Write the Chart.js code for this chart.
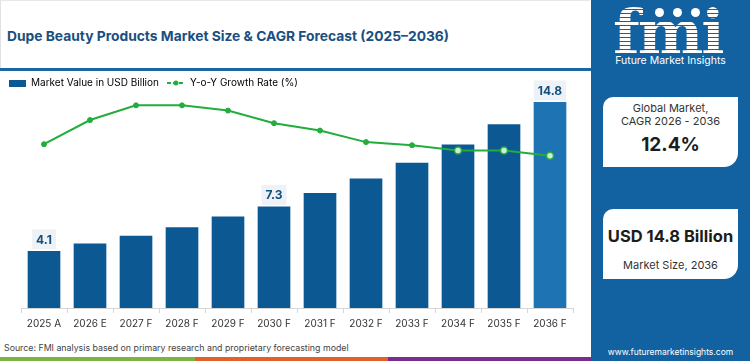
<!DOCTYPE html>
<html>
<head>
<meta charset="utf-8">
<script src="https://cdn.jsdelivr.net/npm/chart.js@4.4.1/dist/chart.umd.min.js"></script>
<style>
  body { margin: 0; width: 750px; height: 361px; overflow: hidden; background: #fff; font-family: Inter, "Open Sans", sans-serif; position: relative; }
  #titlebox { position: absolute; left: 0; top: 0; width: 590px; height: 68px; border-left: 1px solid #e2e2e2; border-top: 1px solid #e8e8e8; box-sizing: border-box; }
  #title { position: absolute; left: 7px; top: 28px; font-size: 13.8px; font-weight: 700; color: #1a4f7f; white-space: nowrap; }
  #sep { position: absolute; left: 0; top: 68px; width: 591px; height: 3px; background: #1b66a3; }
  #chartwrap { position: absolute; left: 0; top: 70px; width: 590px; height: 268px; }
  #source { position: absolute; left: 4px; top: 342px; font-size: 8.8px; color: #444; white-space: nowrap; }
  .strip { position: absolute; top: 357px; height: 4px; }
  #panel { position: absolute; left: 591px; top: 0; width: 159px; height: 361px; background: #1261a0; color: #fff; }
  #logo { position: absolute; left: 22px; top: 2px; font-family: "DejaVu Serif", serif; font-weight: 700; font-size: 62px; line-height: 62px; letter-spacing: -2px;
          background: repeating-linear-gradient(to bottom, #fff 0px, #fff 3px, #1261a0 3px, #1261a0 4px); -webkit-background-clip: text; background-clip: text; color: transparent; }
  .dot { position: absolute; width: 9px; height: 9px; border-radius: 50%; background: #fff; top: 8px; }
  #fmitxt { position: absolute; left: 0; width: 159px; text-align: center; top: 54px; font-size: 10.5px; color: #fff; }
  .card { position: absolute; left: 12px; width: 135px; height: 70px; background: #fff; border-radius: 10px 0 14px 0; color: #222; text-align: center; }
  .small { font-size: 11px; line-height: 13px; color: #333; white-space: nowrap; }
  .big { font-size: 19px; font-weight: 700; color: #1d1d1d; white-space: nowrap; }
  #url { position: absolute; left: 0; width: 159px; text-align: center; top: 347px; font-size: 8.5px; color: #fff; }
</style>
</head>
<body>
<div id="titlebox"></div>
<div id="title">Dupe Beauty Products Market Size &amp; CAGR Forecast (2025–2036)</div>
<div id="sep"></div>
<div id="chartwrap"><canvas id="myChart"></canvas></div>
<div id="source">Source: FMI analysis based on primary research and proprietary forecasting model</div>
<div class="strip" style="left:0;width:195px;background:#7db343"></div>
<div class="strip" style="left:195px;width:193px;background:#e2612b"></div>
<div class="strip" style="left:388px;width:203px;background:#7a2d8c"></div>

<div id="panel">
  <div id="logo">fmi</div>
  <div class="dot" style="left:64px"></div>
  <div class="dot" style="left:82px"></div>
  <div class="dot" style="left:100px"></div>
  <div id="fmitxt">Future Market Insights</div>
  <div class="card" style="top:97px">
    <div class="small" style="padding-top:5px">Global Market,<br>CAGR 2026 - 2036</div>
    <div class="big" style="margin-top:5px">12.4%</div>
  </div>
  <div class="card" style="top:209px">
    <div class="big" style="padding-top:17px; font-size:16.5px">USD 14.8 Billion</div>
    <div class="small" style="margin-top:13px">Market Size, 2036</div>
  </div>
  <div id="url">www.futuremarketinsights.com</div>
</div>

<script>
const years = ["2025 A", "2026 E", "2027 F", "2028 F", "2029 F", "2030 F", "2031 F", "2032 F", "2033 F", "2034 F", "2035 F", "2036 F"];
const marketValue = [4.1, 4.63, 5.2, 5.81, 6.57, 7.3, 8.26, 9.3, 10.44, 11.74, 13.2, 14.8];
const growthRate = [15.6, 17.9, 19.3, 19.3, 18.8, 17.6, 16.9, 15.8, 15.5, 15.0, 15.0, 14.5];
const labelled = [0, 5, 11];

const barBlue = "#0b5893";
const lastBlue = "#1e74b3";
const green = "#22ad3c";

// little legend icons
const barIcon = document.createElement("canvas");
barIcon.width = 17; barIcon.height = 7;
barIcon.getContext("2d").fillStyle = barBlue;
barIcon.getContext("2d").fillRect(0, 0, 17, 7);

const lineIcon = document.createElement("canvas");
lineIcon.width = 18; lineIcon.height = 8;
(function () {
  const c = lineIcon.getContext("2d");
  c.strokeStyle = green; c.lineWidth = 2;
  c.setLineDash([4, 2]);
  c.beginPath(); c.moveTo(0, 4); c.lineTo(18, 4); c.stroke();
  c.fillStyle = green;
  c.beginPath(); c.arc(9, 4, 2.5, 0, Math.PI * 2); c.fill();
})();

const ctx = document.getElementById("myChart").getContext("2d");

const myChart = new Chart(ctx, {
  data: {
    labels: years,
    datasets: [
      {
        type: "line",
        label: "Y-o-Y Growth Rate (%)",
        data: growthRate,
        yAxisID: "y2",
        borderColor: green,
        borderWidth: 2,
        tension: 0,
        pointRadius: growthRate.map((v, i) => (i >= 9 ? 3.5 : 2.5)),
        pointBackgroundColor: growthRate.map((v, i) => (i >= 9 ? "#cfeed4" : green)),
        pointBorderColor: green,
        pointBorderWidth: growthRate.map((v, i) => (i >= 9 ? 1.5 : 1)),
        order: 0,
      },
      {
        type: "bar",
        label: "Market Value in USD Billion",
        data: marketValue,
        yAxisID: "y",
        backgroundColor: marketValue.map((v, i) => (i === marketValue.length - 1 ? lastBlue : barBlue)),
        barPercentage: 0.71,
        categoryPercentage: 1,
        order: 1,
      },
    ],
  },
  options: {
    responsive: true,
    maintainAspectRatio: false,
    animation: false,
    layout: { padding: { top: 0, bottom: 3, left: 0, right: 0 } },
    plugins: {
      tooltip: { enabled: false },
      legend: {
        position: "top",
        align: "start",
        labels: {
          padding: 8,
          usePointStyle: true,
          pointStyleWidth: 18,
          boxHeight: 8,
          color: "#333",
          font: { family: "Inter", size: 10 },
          generateLabels: () => [
            { text: "Market Value in USD Billion", pointStyle: barIcon, fillStyle: barBlue, strokeStyle: barBlue, lineWidth: 0, datasetIndex: 1 },
            { text: "Y-o-Y Growth Rate (%)", pointStyle: lineIcon, fillStyle: green, strokeStyle: green, lineWidth: 0, datasetIndex: 0 },
          ],
        },
      },
    },
    scales: {
      x: {
        offset: true,
        grid: { display: true, drawOnChartArea: false, offset: true, tickLength: 5, color: "#d5d5d5" },
        border: { display: true, color: "#d5d5d5" },
        ticks: { color: "#333", font: { family: "Inter", size: 10 }, padding: 5 },
      },
      y: {
        position: "left",
        min: 0,
        max: 15.09,
        grid: { display: false },
        border: { display: false },
        ticks: { display: false },
        afterFit: (scale) => { scale.width = 21; },
      },
      y2: {
        position: "right",
        min: 0,
        max: 20,
        grid: { display: false },
        border: { display: false },
        ticks: { display: false },
        afterFit: (scale) => { scale.width = 17; },
      },
    },
  },
  plugins: [
    {
      id: "barLabels",
      afterDatasetsDraw(chart) {
        const c = chart.ctx;
        const meta = chart.getDatasetMeta(1);
        c.save();
        c.font = "700 12px Inter";
        c.textAlign = "center";
        c.textBaseline = "middle";
        labelled.forEach((i) => {
          const el = meta.data[i];
          const txt = marketValue[i].toFixed(1);
          const w = c.measureText(txt).width + 8;
          const cy = el.y - 11.5;
          c.fillStyle = "#eef1f5";
          c.fillRect(el.x - w / 2, cy - 10, w, 20);
          c.fillStyle = "#14507f";
          c.fillText(txt, el.x, cy + 0.5);
        });
        c.restore();
      },
    },
  ],
});
</script>
</body>
</html>
